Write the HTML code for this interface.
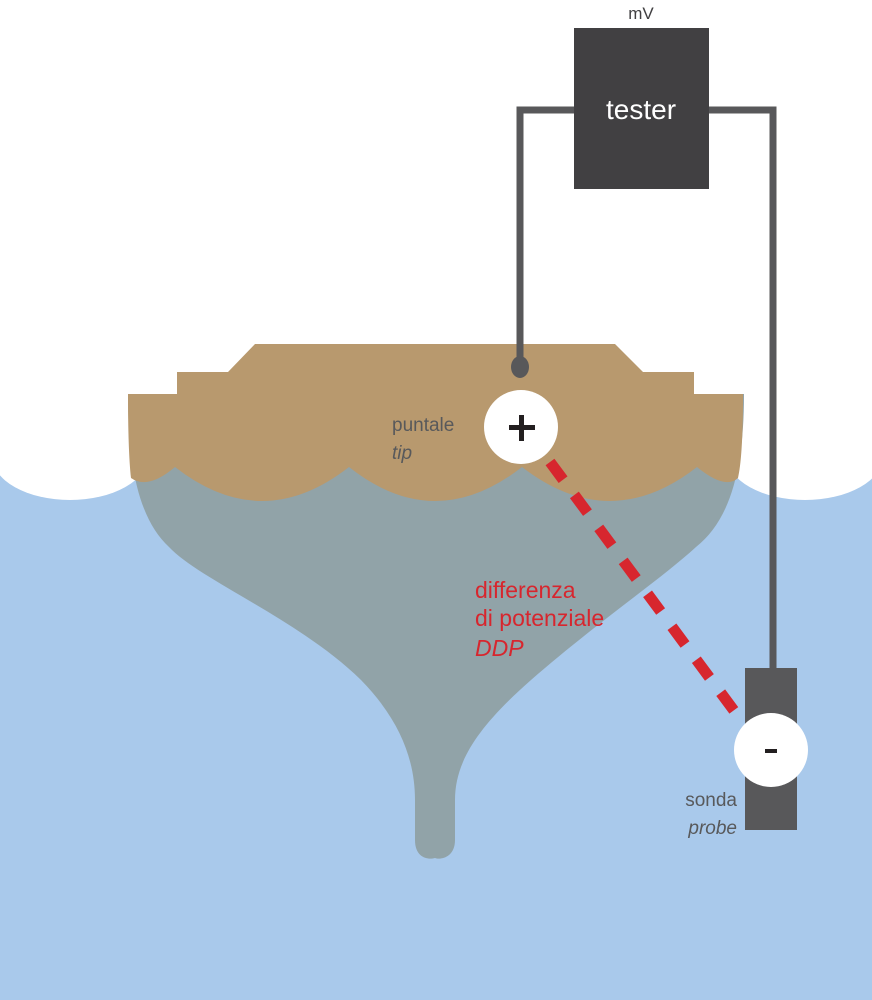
<!DOCTYPE html>
<html><head><meta charset="utf-8"><style>
html,body{margin:0;padding:0;background:#fff}
svg{display:block}
text{font-family:"Liberation Sans",sans-serif}
</style></head><body>
<svg width="872" height="1000" viewBox="0 0 872 1000" xmlns="http://www.w3.org/2000/svg">
<rect x="0" y="0" width="872" height="1000" fill="#fff"/>
<rect x="0" y="456" width="872" height="544" fill="#a9c9eb"/>
<ellipse cx="70" cy="456" rx="78" ry="44" fill="#fff"/>
<ellipse cx="805" cy="456" rx="78" ry="44" fill="#fff"/>
<path d="M128,394 L744,394 C744,470 730,520 696,547 C660,580 600,620 531,680 C480,725 455,760 455,800 L455,840 C455,858 440,860 435,858 C428,860 415,858 415,840 L415,800 C415,760 400,720 361,680 C300,620 200,580 169,547 C140,520 128,470 128,394 Z" fill="#91a3a8"/>
<path d="M255,344 L615,344 L643,372 L694,372 L694,394 L743,394 C743,440 741,465 738,478 Q725,490 697,467 Q610,535 522,467 Q435,535 349,467 Q262,535 175,467 Q148,490 131,478 C129,460 128,430 128,394 L177,394 L177,372 L228,372 Z" fill="#b8996e"/>
<polyline points="520,366 520,110 574,110" fill="none" stroke="#58585a" stroke-width="7"/>
<polyline points="709,110 773,110 773,670" fill="none" stroke="#58585a" stroke-width="7"/>
<ellipse cx="520" cy="367" rx="9" ry="11" fill="#58585a"/>
<rect x="574" y="28" width="135" height="161" fill="#414042"/>
<text x="641" y="119" font-size="28" fill="#fff" text-anchor="middle">tester</text>
<text x="641" y="19" font-size="17" fill="#414042" text-anchor="middle">mV</text>
<line x1="550" y1="462" x2="735" y2="712" stroke="#d7262e" stroke-width="11" stroke-dasharray="22,19"/>
<circle cx="521" cy="427" r="37" fill="#fff"/>
<rect x="509" y="425" width="26" height="5" fill="#231f20"/>
<rect x="519" y="415" width="5" height="26" fill="#231f20"/>
<rect x="745" y="668" width="52" height="162" fill="#58585a"/>
<circle cx="771" cy="750" r="37" fill="#fff"/>
<rect x="765" y="749" width="12" height="4" fill="#231f20"/>
<text x="392" y="431" font-size="19" fill="#58595b">puntale</text>
<text x="392" y="459" font-size="19" fill="#58595b" font-style="italic">tip</text>
<text x="475" y="598" font-size="23" fill="#d7262e">differenza</text>
<text x="475" y="626" font-size="23" fill="#d7262e">di potenziale</text>
<text x="475" y="656" font-size="23" fill="#d7262e" font-style="italic">DDP</text>
<text x="737" y="806" font-size="19" fill="#58595b" text-anchor="end">sonda</text>
<text x="737" y="834" font-size="19" fill="#58595b" text-anchor="end" font-style="italic">probe</text>
</svg>
</body></html>
